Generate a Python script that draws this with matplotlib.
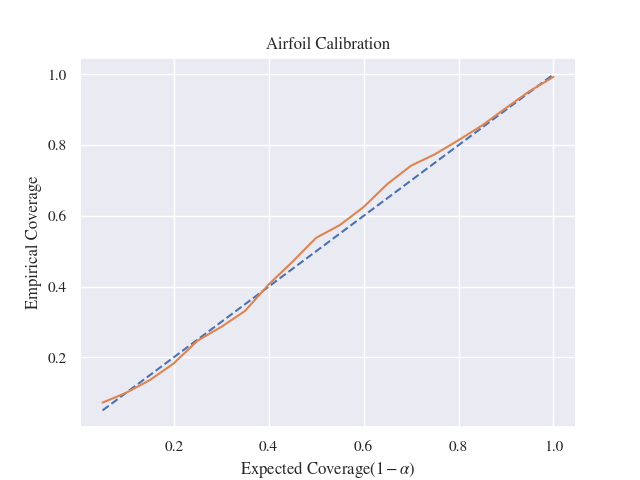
# -*- coding: utf-8 -*-

import matplotlib
matplotlib.use("Agg")
import matplotlib.pyplot as plt
import seaborn as sns

# 期待カバレッジ (1 - alpha)
expected = [0.05, 0.10, 0.15, 0.20, 0.25, 0.30, 0.35, 0.40, 0.45, 0.50,
            0.55, 0.60, 0.65, 0.70, 0.75, 0.80, 0.85, 0.90, 0.95, 1.00]

# 実測カバレッジ
empirical = [0.072, 0.100, 0.136, 0.183, 0.247, 0.286, 0.331, 0.406, 0.470, 0.538,
             0.574, 0.625, 0.690, 0.742, 0.774, 0.814, 0.856, 0.905, 0.953, 0.993]


def main():
    sns.set_theme(style="darkgrid")
    plt.rcParams["font.family"] = ["STIXGeneral", "DejaVu Serif"]
    plt.rcParams["mathtext.fontset"] = "stix"

    fig, ax = plt.subplots(figsize=(6.4, 4.8), dpi=100)

    # 理想線と実測値
    ax.plot(expected, expected, linestyle="--")
    ax.plot(expected, empirical)

    ax.set_title("Airfoil Calibration")
    ax.set_xlabel(r"Expected Coverage$(1-\alpha)$")
    ax.set_ylabel("Empirical Coverage")

    fig.savefig("out.png")


if __name__ == '__main__':
    main()
